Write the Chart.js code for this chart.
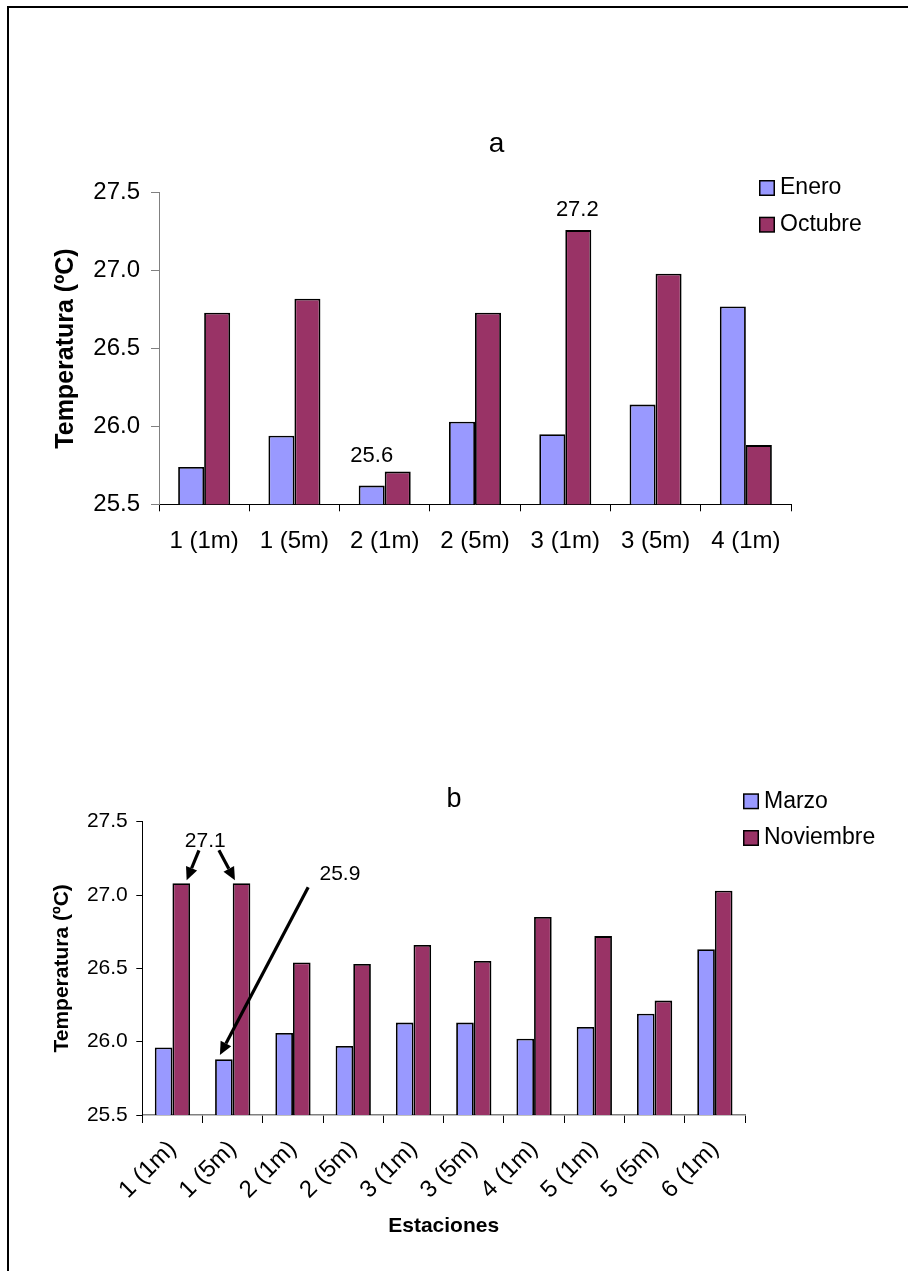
<!DOCTYPE html>
<html>
<head>
<meta charset="utf-8">
<script src="https://cdn.jsdelivr.net/npm/chart.js@4/dist/chart.umd.min.js"></script>
<style>
  html, body { margin: 0; padding: 0; background: #fff; overflow: hidden; }
  #page { position: relative; width: 908px; height: 1271px; overflow: hidden; }
  #frame { position: absolute; left: 7px; top: 6px; width: 1000px; height: 1400px;
           border-left: 2px solid #000; border-top: 2px solid #000; }
  canvas { position: absolute; left: 0; }
  #chartA { top: 100px; }
  #chartB { top: 700px; }
</style>
</head>
<body>
<div id="page">
  <div id="frame"></div>
  <canvas id="chartA" width="908" height="480"></canvas>
  <canvas id="chartB" width="908" height="571"></canvas>
</div>
<script>
const FONT = "'Liberation Sans', Arial, sans-serif";
const BLUE = "#9999FF";
const WINE = "#993366";

// panel a
const stationsA = ["1 (1m)", "1 (5m)", "2 (1m)", "2 (5m)", "3 (1m)", "3 (5m)", "4 (1m)"];
const enero = [25.74, 25.94, 25.62, 26.03, 25.95, 26.14, 26.77];
const octubre = [26.73, 26.82, 25.71, 26.73, 27.26, 26.98, 25.88];

// panel b
const stationsB = ["1 (1m)", "1 (5m)", "2 (1m)", "2 (5m)", "3 (1m)", "3 (5m)", "4 (1m)", "5 (1m)", "5 (5m)", "6 (1m)"];
const marzo = [25.96, 25.88, 26.06, 25.97, 26.13, 26.13, 26.02, 26.10, 26.19, 26.63];
const noviembre = [27.08, 27.08, 26.54, 26.53, 26.66, 26.55, 26.85, 26.72, 26.28, 27.03];

// shared y axis
const tempTicks = [25.5, 26.0, 26.5, 27.0, 27.5];

// title letter, legend, labels and arrows drawn on top of the bars
const extras = {
  id: "extras",
  afterDraw(chart, args, opts) {
    const ctx = chart.ctx;
    ctx.save();
    ctx.fillStyle = "#000";
    ctx.font = opts.titleSize + "px " + FONT;
    ctx.textAlign = "center";
    ctx.textBaseline = "alphabetic";
    ctx.fillText(opts.title, opts.titleX, opts.titleY);

    const lg = opts.legend;
    chart.data.datasets.forEach((ds, i) => {
      const y = lg.top + i * lg.step;
      ctx.fillStyle = "#000";
      ctx.fillRect(lg.left, y, lg.box, lg.box);
      ctx.fillStyle = ds.backgroundColor;
      ctx.fillRect(lg.left + 1.5, y + 1.5, lg.box - 3, lg.box - 3);
      ctx.fillStyle = "#000";
      ctx.font = lg.size + "px " + FONT;
      ctx.textAlign = "left";
      ctx.textBaseline = "middle";
      ctx.fillText(ds.label, lg.left + lg.box + 5, y + lg.box / 2);
    });

    (opts.notes || []).forEach(n => {
      const bar = chart.getDatasetMeta(n.ds).data[n.idx];
      ctx.fillStyle = "#000";
      ctx.font = n.size + "px " + FONT;
      ctx.textAlign = "center";
      ctx.textBaseline = "alphabetic";
      ctx.fillText(n.text, bar.x + n.dx, bar.y + n.dy);
    });

    (opts.arrows || []).forEach(a => {
      const bar = chart.getDatasetMeta(a.ds).data[a.idx];
      const x1 = bar.x + a.from[0], y1 = bar.y + a.from[1];
      const x2 = bar.x + a.to[0], y2 = bar.y + a.to[1];
      const ang = Math.atan2(y2 - y1, x2 - x1);
      const head = 13, half = 6;
      const bx = x2 - head * Math.cos(ang), by = y2 - head * Math.sin(ang);
      ctx.strokeStyle = "#000";
      ctx.lineWidth = 3.2;
      ctx.beginPath();
      ctx.moveTo(x1, y1);
      ctx.lineTo(bx, by);
      ctx.stroke();
      ctx.beginPath();
      ctx.moveTo(x2, y2);
      ctx.lineTo(bx + half * Math.sin(ang), by - half * Math.cos(ang));
      ctx.lineTo(bx - half * Math.sin(ang), by + half * Math.cos(ang));
      ctx.closePath();
      ctx.fill();
    });
    ctx.restore();
  }
};

function barSet(label, data, color, pct) {
  return {
    label: label,
    data: data,
    backgroundColor: color,
    borderColor: "#000",
    borderWidth: 1.8,
    borderSkipped: false,
    categoryPercentage: pct,
    barPercentage: 1
  };
}

new Chart(document.getElementById("chartA"), {
  type: "bar",
  data: {
    labels: stationsA,
    datasets: [
      barSet("Enero", enero, BLUE, 0.576),
      barSet("Octubre", octubre, WINE, 0.576)
    ]
  },
  options: {
    responsive: false,
    animation: false,
    devicePixelRatio: 1,
    events: [],
    layout: { padding: { left: 0, top: 92.7, right: 117, bottom: 0 } },
    plugins: {
      legend: { display: false },
      tooltip: { enabled: false },
      extras: {
        title: "a", titleSize: 28, titleX: 496.5, titleY: 51.5,
        legend: { left: 759, top: 80, step: 36.7, box: 16, size: 23 },
        notes: [
          { ds: 0, idx: 2, text: "25.6", dx: 0, dy: -24, size: 22 },
          { ds: 1, idx: 4, text: "27.2", dx: -1, dy: -14, size: 22 }
        ]
      }
    },
    scales: {
      x: {
        grid: { drawOnChartArea: false, tickLength: 7, color: "#000", offset: true },
        border: { color: "#000", width: 1 },
        ticks: { color: "#000", font: { family: FONT, size: 24 }, padding: 15.5, maxRotation: 0, autoSkip: false },
        afterFit: s => { s.height = 75.7; }
      },
      y: {
        min: tempTicks[0],
        max: tempTicks[tempTicks.length - 1],
        ticks: {
          stepSize: 0.5,
          color: "#000",
          font: { family: FONT, size: 24 },
          padding: 11,
          callback: v => v.toFixed(1)
        },
        grid: { drawOnChartArea: false, tickLength: 8, color: "#808080" },
        border: { color: "#808080", width: 1 },
        title: {
          display: true, text: "Temperatura (ºC)", color: "#000",
          font: { family: FONT, size: 25, weight: "bold" },
          padding: { top: 50.8, bottom: 0 }
        },
        afterFit: s => { s.width = 159; }
      }
    }
  },
  plugins: [extras]
});

new Chart(document.getElementById("chartB"), {
  type: "bar",
  data: {
    labels: stationsB,
    datasets: [
      barSet("Marzo", marzo, BLUE, 0.585),
      barSet("Noviembre", noviembre, WINE, 0.585)
    ]
  },
  options: {
    responsive: false,
    animation: false,
    devicePixelRatio: 1,
    events: [],
    layout: { padding: { left: 0, top: 121.7, right: 163, bottom: 0 } },
    plugins: {
      legend: { display: false },
      tooltip: { enabled: false },
      extras: {
        title: "b", titleSize: 27, titleX: 454, titleY: 106.5,
        legend: { left: 743, top: 93.3, step: 36.7, box: 16, size: 23 },
        notes: [
          { ds: 1, idx: 0, text: "27.1", dx: 24, dy: -36.5, size: 21 },
          { ds: 0, idx: 1, text: "25.9", dx: 116, dy: -179.3, size: 21 }
        ],
        arrows: [
          { ds: 1, idx: 0, from: [17.7, -33], to: [5.4, -3] },
          { ds: 1, idx: 1, from: [-22.6, -33], to: [-6.6, -3] },
          { ds: 0, idx: 1, from: [84.3, -172], to: [-4, -4.3] }
        ]
      }
    },
    scales: {
      x: {
        grid: { drawOnChartArea: false, tickLength: 8, color: "#000", offset: true },
        border: { color: "#808080", width: 1.5 },
        ticks: { color: "#000", font: { family: FONT, size: 24 }, padding: 12, minRotation: 45, maxRotation: 45, autoSkip: false },
        title: {
          display: true, text: "Estaciones", color: "#000",
          font: { family: FONT, size: 21, weight: "bold" },
          padding: { top: 0, bottom: 31.7 }
        },
        afterFit: s => { s.height = 156; }
      },
      y: {
        min: tempTicks[0],
        max: tempTicks[tempTicks.length - 1],
        ticks: {
          stepSize: 0.5,
          color: "#000",
          font: { family: FONT, size: 21 },
          padding: 8.5,
          callback: v => v.toFixed(1)
        },
        grid: { drawOnChartArea: false, tickLength: 6, color: "#000" },
        border: { color: "#000", width: 1 },
        title: {
          display: true, text: "Temperatura (ºC)", color: "#000",
          font: { family: FONT, size: 21, weight: "bold" },
          padding: { top: 49.4, bottom: 0 }
        },
        afterFit: s => { s.width = 142.3; }
      }
    }
  },
  plugins: [extras]
});
</script>
</body>
</html>
